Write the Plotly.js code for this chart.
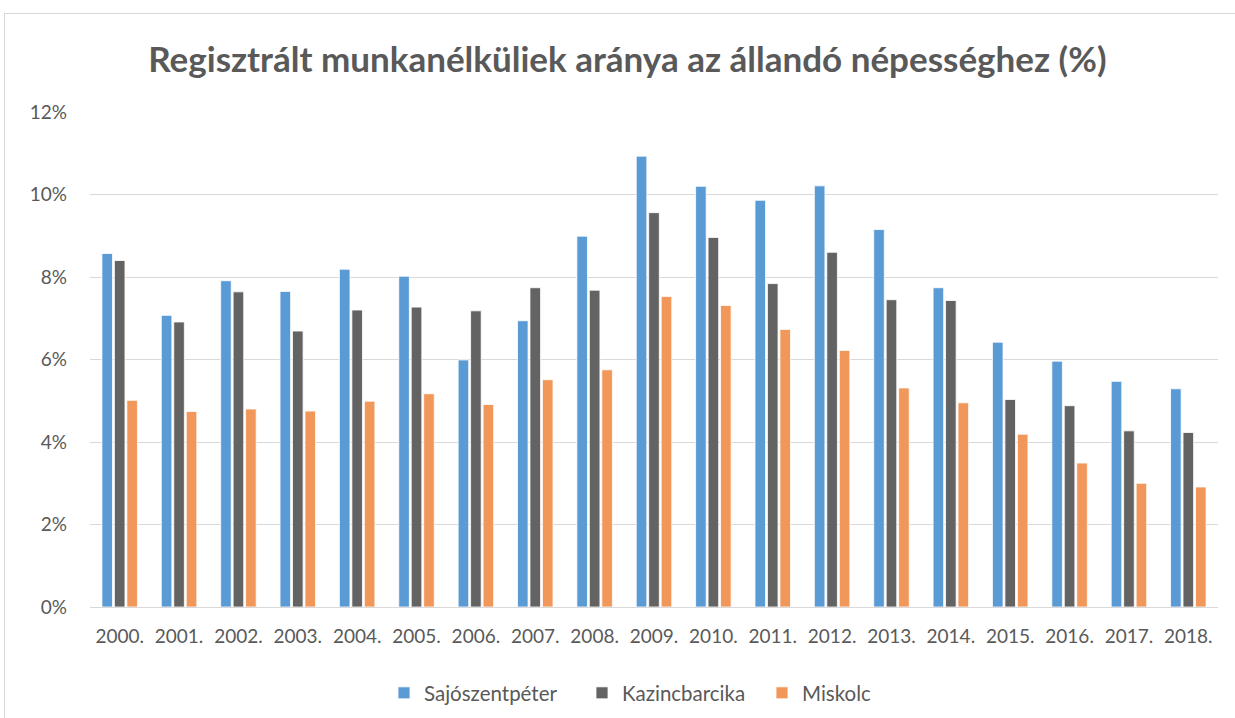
<!DOCTYPE html>
<html>
<head>
<meta charset="utf-8">
<script src="https://cdn.plot.ly/plotly-3.0.1.min.js"></script>
<style>
html,body{margin:0;padding:0;background:#fff;}
#wrap{position:relative;width:1235px;height:718px;overflow:hidden;}
#chart{width:1235px;height:718px;}
#frame{position:absolute;left:4px;top:13px;width:1240px;height:720px;border:1px solid #D9D9D9;pointer-events:none;}
</style>
</head>
<body>
<div id="wrap"><div id="chart"></div><div id="frame"></div></div>
<script>
const years = ["2000.","2001.","2002.","2003.","2004.","2005.","2006.","2007.","2008.","2009.","2010.","2011.","2012.","2013.","2014.","2015.","2016.","2017.","2018."];
const sajoszentpeter = [8.57,7.07,7.91,7.65,8.19,8.02,5.99,6.94,8.99,10.93,10.20,9.86,10.21,9.15,7.74,6.42,5.96,5.47,5.29];
const kazincbarcika = [8.40,6.91,7.64,6.69,7.20,7.27,7.18,7.74,7.68,9.56,8.96,7.84,8.60,7.45,7.43,5.03,4.88,4.27,4.23];
const miskolc = [5.01,4.74,4.80,4.75,4.99,5.17,4.91,5.51,5.75,7.53,7.31,6.73,6.22,5.31,4.95,4.19,3.49,3.00,2.91];
const seriesNames = ["Sajószentpéter","Kazincbarcika","Miskolc"];
const yTicks = [0,2,4,6,8,10,12];

const colors = ["#5B9BD5","#636363","#F1975A"];
const legendIds = ['legend','legend2','legend3'];
const data = [sajoszentpeter, kazincbarcika, miskolc].map((vals,i)=>({
  type:'bar', x:years, y:vals, name:seriesNames[i], legend:legendIds[i],
  marker:{color:colors[i], line:{color:'#ffffff', width:0.8}},
  hoverinfo:'x+y+name'
}));
const font = "Lato, 'Open Sans', sans-serif";
const W = 1235, H = 718;
const legFont = {family:font, size:20.5, color:'#595959'};
function leg(px){
  return {orientation:'h', xref:'container', x:px/W, xanchor:'left',
    yref:'container', y:1-693/H, yanchor:'middle',
    font:legFont, itemwidth:30, bgcolor:'rgba(0,0,0,0)', borderwidth:0};
}
const layout = {
  width:W, height:H,
  margin:{l:90, r:17, t:112, b:111},
  paper_bgcolor:'#ffffff', plot_bgcolor:'#ffffff',
  barmode:'group', bargap:0.37, bargroupgap:0.15,
  title:{text:'<b>Regisztrált munkanélküliek aránya az állandó népességhez (%)</b>',
    x:0.508, xanchor:'center', y:1-60/H, yanchor:'middle',
    font:{family:font, size:35, color:'#595959'}},
  xaxis:{type:'category', tickfont:{family:font, size:19, color:'#595959'},
    showgrid:false, zeroline:false, showline:false, ticks:'', ticklabelstandoff:16, automargin:false},
  yaxis:{range:[0,12], tickvals:yTicks, ticktext:yTicks.map(v=>v+'%'),
    tickfont:{family:font, size:19, color:'#595959'},
    showgrid:true, gridcolor:'#D9D9D9', gridwidth:1, zeroline:true, zerolinecolor:'#D9D9D9', zerolinewidth:1,
    showline:false, ticks:'', ticklabelstandoff:22, automargin:false},
  legend:leg(384), legend2:leg(582), legend3:leg(762),
  showlegend:true
};
Plotly.newPlot('chart', data, layout, {displayModeBar:false, staticPlot:true});
</script>
</body>
</html>
